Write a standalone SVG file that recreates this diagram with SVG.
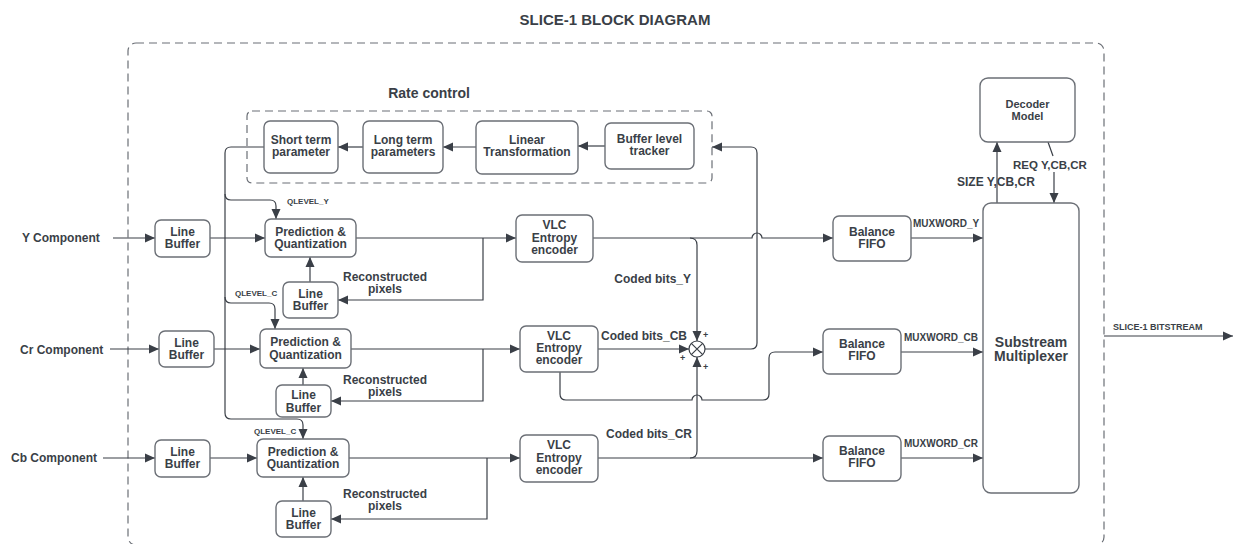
<svg xmlns="http://www.w3.org/2000/svg" width="1235" height="544" viewBox="0 0 1235 544">
<defs>
<marker id="a" viewBox="0 0 10 10" refX="10" refY="5" markerWidth="10" markerHeight="10" orient="auto" markerUnits="userSpaceOnUse"><path d="M0,0.5 L10,5 L0,9.5 z" fill="#3a3f47"/></marker>
<style>
text{font-family:"Liberation Sans",Arial,sans-serif;font-weight:bold;fill:#3a3f47}
.t12{font-size:12px}
.c{text-anchor:middle}
.e{text-anchor:end}
.box{fill:#fff;stroke:#6b6f76;stroke-width:1.4}
.ln{fill:none;stroke:#3a3f47;stroke-width:1.2}
.lna{fill:none;stroke:#3a3f47;stroke-width:1.2;marker-end:url(#a)}
.dash{fill:none;stroke:#6b6f76;stroke-width:1.2;stroke-dasharray:8 5}
</style>
</defs>
<rect width="1235" height="544" fill="#fff"/>
<text x="615" y="25" class="c" font-size="15">SLICE-1 BLOCK DIAGRAM</text>
<rect class="dash" x="128" y="43" width="976" height="502" rx="8"/>
<rect class="dash" x="247" y="111" width="465" height="72" rx="5"/>
<text x="429" y="98" class="c" font-size="14">Rate control</text>

<g id="connectors">
<path class="lna" d="M605,146 H578"/>
<path class="lna" d="M476,147 H443"/>
<path class="lna" d="M363,147 H338"/>
<path class="lna" d="M264,147 H231 Q225,147 225,153 V413 Q225,419 231,419 H297 Q303,419 303,425 V439"/>
<path class="lna" d="M225,194 Q225,200 231,200 H270 Q276,200 276,206 V219"/>
<path class="lna" d="M225,297 Q225,303 231,303 H269 Q275,303 275,309 V329"/>
<path class="lna" d="M113,238 H155"/>
<path class="lna" d="M210,238 H265"/>
<path class="lna" d="M356,238 H516"/>
<path class="lna" d="M483,238 V300 H338"/>
<path class="lna" d="M310,282 V257"/>
<path class="lna" d="M593,238 H752 A5,5 0 0 1 762,238 H833"/>
<path class="lna" d="M690,238 Q697,238 697,245 V341"/>
<path class="lna" d="M911,238 H983"/>
<path class="lna" d="M110,349 H159"/>
<path class="lna" d="M214,349 H260"/>
<path class="lna" d="M351,349 H520"/>
<path class="lna" d="M483,349 V401 H331"/>
<path class="lna" d="M303,386 V368"/>
<path class="lna" d="M598,349 H689"/>
<path class="lna" d="M560,372 V394 Q560,400 566,400 H692 A5,5 0 0 1 702,400 H763 Q769,400 769,394 V358 Q769,352 775,352 H823"/>
<path class="lna" d="M901,352 H983"/>
<path class="lna" d="M705,349 H751 Q757,349 757,343 V153 Q757,147 751,147 H712"/>
<path class="lna" d="M103,458 H155"/>
<path class="lna" d="M210,458 H257"/>
<path class="lna" d="M349,458 H520"/>
<path class="lna" d="M487,458 V519 H331"/>
<path class="lna" d="M303,501 V477"/>
<path class="lna" d="M598,458 H823"/>
<path class="lna" d="M690,458 Q697,458 697,451 V357"/>
<path class="lna" d="M901,458 H983"/>
<path class="lna" d="M997,203 V142"/>
<path class="ln" d="M1048,142 L1053,156"/>
<path class="lna" d="M1054,172 V203"/>
<path class="lna" d="M1104,336 H1233"/>
</g>

<g id="rc-short"><rect class="box" x="264" y="121" width="74" height="52" rx="6"/><text class="t12 c" x="301" y="144">Short term</text><text class="t12 c" x="301" y="156">parameter</text></g>
<g id="rc-long"><rect class="box" x="363" y="121" width="80" height="52" rx="6"/><text class="t12 c" x="403" y="144">Long term</text><text class="t12 c" x="403" y="156">parameters</text></g>
<g id="rc-linear"><rect class="box" x="476" y="121" width="102" height="53" rx="6"/><text class="t12 c" x="527" y="144">Linear</text><text class="t12 c" x="527" y="156">Transformation</text></g>
<g id="rc-buffer"><rect class="box" x="605" y="123" width="89" height="46" rx="6"/><text class="t12 c" x="649.5" y="143">Buffer level</text><text class="t12 c" x="649.5" y="155">tracker</text></g>

<text x="287" y="204" font-size="8">QLEVEL_Y</text>
<text x="235" y="296" font-size="8">QLEVEL_C</text>
<text x="254" y="434" font-size="8">QLEVEL_C</text>

<text class="t12" x="22" y="242">Y Component</text>
<g id="lb-y"><rect class="box" x="155" y="220" width="55" height="37" rx="6"/><text class="t12 c" x="182.5" y="236">Line</text><text class="t12 c" x="182.5" y="248">Buffer</text></g>
<g id="pq-y"><rect class="box" x="265" y="219" width="91" height="38" rx="6"/><text class="t12 c" x="310.5" y="236">Prediction &amp;</text><text class="t12 c" x="310.5" y="248">Quantization</text></g>
<g id="lbf-y"><rect class="box" x="283" y="282" width="55" height="36" rx="6"/><text class="t12 c" x="310.5" y="298">Line</text><text class="t12 c" x="310.5" y="310">Buffer</text></g>
<text class="t12 c" x="385" y="281">Reconstructed</text><text class="t12 c" x="385" y="293">pixels</text>
<g id="vlc-y"><rect class="box" x="516" y="215" width="77" height="47" rx="6"/><text class="t12 c" x="554.5" y="229">VLC</text><text class="t12 c" x="554.5" y="242">Entropy</text><text class="t12 c" x="554.5" y="254">encoder</text></g>
<text class="t12 e" x="691" y="283">Coded bits_Y</text>
<g id="bf-y"><rect class="box" x="833" y="216" width="78" height="45" rx="6"/><text class="t12 c" x="872" y="236">Balance</text><text class="t12 c" x="872" y="248">FIFO</text></g>
<text x="913" y="226.5" font-size="10">MUXWORD_Y</text>

<text class="t12" x="20" y="354">Cr Component</text>
<g id="lb-cr"><rect class="box" x="159" y="331" width="55" height="36" rx="6"/><text class="t12 c" x="186.5" y="347">Line</text><text class="t12 c" x="186.5" y="359">Buffer</text></g>
<g id="pq-cr"><rect class="box" x="260" y="329" width="91" height="39" rx="6"/><text class="t12 c" x="305.5" y="346">Prediction &amp;</text><text class="t12 c" x="305.5" y="358.5">Quantization</text></g>
<g id="lbf-cr"><rect class="box" x="276" y="385" width="55" height="32" rx="6"/><text class="t12 c" x="303.5" y="399">Line</text><text class="t12 c" x="303.5" y="411.5">Buffer</text></g>
<text class="t12 c" x="385" y="383.5">Reconstructed</text><text class="t12 c" x="385" y="395.5">pixels</text>
<g id="vlc-cr"><rect class="box" x="520" y="326" width="78" height="46" rx="6"/><text class="t12 c" x="559" y="339.5">VLC</text><text class="t12 c" x="559" y="352">Entropy</text><text class="t12 c" x="559" y="364">encoder</text></g>
<text class="t12 e" x="687" y="340">Coded bits_CB</text>
<g id="sum"><circle cx="697" cy="349" r="8" fill="#fff" stroke="#3a3f47" stroke-width="1.2"/><path class="ln" d="M691.3,343.3 L702.7,354.7 M702.7,343.3 L691.3,354.7"/>
<text x="703" y="338" font-size="9">+</text><text x="680" y="361" font-size="9">+</text><text x="703" y="370" font-size="9">+</text></g>
<g id="bf-cb"><rect class="box" x="823" y="329" width="78" height="45" rx="6"/><text class="t12 c" x="862" y="348">Balance</text><text class="t12 c" x="862" y="360">FIFO</text></g>
<text x="904" y="340.5" font-size="10">MUXWORD_CB</text>

<text class="t12" x="11" y="462">Cb Component</text>
<g id="lb-cb"><rect class="box" x="155" y="440" width="55" height="37" rx="6"/><text class="t12 c" x="182.5" y="456">Line</text><text class="t12 c" x="182.5" y="468">Buffer</text></g>
<g id="pq-cb"><rect class="box" x="257" y="439" width="92" height="38" rx="6"/><text class="t12 c" x="303" y="456">Prediction &amp;</text><text class="t12 c" x="303" y="468">Quantization</text></g>
<g id="lbf-cb"><rect class="box" x="276" y="501" width="55" height="36" rx="6"/><text class="t12 c" x="303.5" y="517">Line</text><text class="t12 c" x="303.5" y="529">Buffer</text></g>
<text class="t12 c" x="385" y="497.5">Reconstructed</text><text class="t12 c" x="385" y="509.5">pixels</text>
<g id="vlc-cb"><rect class="box" x="520" y="435" width="78" height="47" rx="6"/><text class="t12 c" x="559" y="449">VLC</text><text class="t12 c" x="559" y="462">Entropy</text><text class="t12 c" x="559" y="474">encoder</text></g>
<text class="t12 e" x="692" y="438">Coded bits_CR</text>
<g id="bf-cr"><rect class="box" x="823" y="436" width="78" height="45" rx="6"/><text class="t12 c" x="862" y="455">Balance</text><text class="t12 c" x="862" y="467">FIFO</text></g>
<text x="904" y="446.5" font-size="10">MUXWORD_CR</text>

<g id="mux"><rect class="box" x="983" y="203" width="96" height="290" rx="8"/><text class="c" font-size="14" x="1031" y="347">Substream</text><text class="c" font-size="14" x="1031" y="361">Multiplexer</text></g>
<g id="decoder"><rect class="box" x="980" y="78" width="95" height="64" rx="8"/><text class="c" font-size="11" x="1027.5" y="108">Decoder</text><text class="c" font-size="11" x="1027.5" y="120">Model</text></g>
<text class="t12" x="957" y="186">SIZE Y,CB,CR</text>
<text x="1013" y="169" font-size="11.5">REQ Y,CB,CR</text>
<text x="1113" y="330" font-size="9">SLICE-1 BITSTREAM</text>
</svg>
